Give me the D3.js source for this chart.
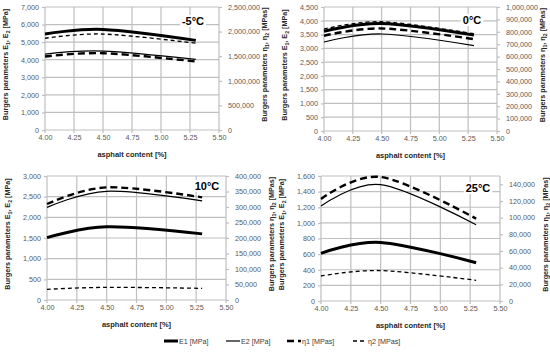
<!DOCTYPE html>
<html>
<head>
<meta charset="utf-8">
<script src="https://cdn.jsdelivr.net/npm/d3@7"></script>
<style>
  body { margin: 0; background: #fff; }
  svg { display: block; font-family: "Liberation Sans", Arial, sans-serif; }
</style>
</head>
<body>
<div id="chart"></div>
<script>
// asphalt content of the mixes [%]
const asphalt = [4.0, 4.5, 5.3];
const temps = ["-5°C", "0°C", "10°C", "25°C"];

// Burgers parameters, one row per temperature (-5, 0, 10, 25 °C)
const E1 = [[5460, 5720, 5100], [3620, 3900, 3480], [1510, 1770, 1600], [610, 750, 490]];
const E2 = [[4320, 4490, 4020], [3230, 3520, 3100], [2240, 2630, 2400], [1215, 1490, 975]];
const eta1 = [[1493000, 1561000, 1393000], [768000, 827000, 741000], [309700, 363400, 331200], [122400, 148800, 98800]];
const eta2 = [[1864000, 1950000, 1764000], [822000, 881000, 784000], [34400, 40800, 37600], [30000, 36500, 24800]];

// axes
const xTicks = [4.00, 4.25, 4.50, 4.75, 5.00, 5.25, 5.50];
const leftMax = [7000, 4500, 3000, 1600];
const leftStep = [1000, 500, 500, 200];
const rightMax = [2500000, 1000000, 400000, 150000];
const rightStep = [500000, 100000, 50000, 20000];

const legendNames = ["E1 [MPa]", "E2 [MPa]", "η1 [MPas]", "η2 [MPas]"];

const W = 550, H = 354;
const svg = d3.select("#chart").append("svg").attr("width", W).attr("height", H);

// plot rectangles of the four panels
const boxes = [
  { x0: 45, x1: 219, y0: 7, y1: 130, lab: { x: 193, y: 21 } },
  { x0: 324, x1: 497, y0: 7, y1: 131, lab: { x: 472, y: 20 } },
  { x0: 47, x1: 226, y0: 176, y1: 300, lab: { x: 207, y: 186 } },
  { x0: 321, x1: 500, y0: 176, y1: 301, lab: { x: 478, y: 188 } }
];

const styles = [
  { w: 3, dash: null },
  { w: 1.2, dash: null },
  { w: 2.4, dash: "7,4" },
  { w: 1.3, dash: "4,3" }
];

const fmt = d3.format(",.2f");
const fmtInt = d3.format(",");
const grid = "#bfbfbf", tickCol = "#595959";

boxes.forEach((b, i) => {
  const g = svg.append("g");
  const x = d3.scaleLinear().domain([4.0, 5.5]).range([b.x0, b.x1]);
  const yL = d3.scaleLinear().domain([0, leftMax[i]]).range([b.y1, b.y0]);
  const yR = d3.scaleLinear().domain([0, rightMax[i]]).range([b.y1, b.y0]);
  const lTicks = d3.range(0, leftMax[i] + 1, leftStep[i]);
  const rTicks = d3.range(0, rightMax[i] + 1, rightStep[i]);

  // grid
  g.selectAll(".hg").data(lTicks).enter().append("line")
    .attr("x1", b.x0).attr("x2", b.x1)
    .attr("y1", d => yL(d)).attr("y2", d => yL(d))
    .attr("stroke", grid).attr("stroke-width", 1.2);
  g.selectAll(".vg").data(xTicks).enter().append("line")
    .attr("x1", d => x(d)).attr("x2", d => x(d))
    .attr("y1", b.y0).attr("y2", b.y1 + 3)
    .attr("stroke", grid).attr("stroke-width", 1.2);

  // axes
  const ax = g.append("g").attr("transform", `translate(0,${b.y1})`)
    .call(d3.axisBottom(x).tickValues(xTicks).tickFormat(fmt).tickSize(0).tickPadding(5));
  const al = g.append("g").attr("transform", `translate(${b.x0},0)`)
    .call(d3.axisLeft(yL).tickValues(lTicks).tickFormat(fmtInt).tickSize(3).tickPadding(3));
  const ar = g.append("g").attr("transform", `translate(${b.x1},0)`)
    .call(d3.axisRight(yR).tickValues(rTicks).tickFormat(fmtInt).tickSize(3).tickPadding(6));
  [ax, al, ar].forEach(a => {
    a.select(".domain").remove();
    a.selectAll("line").attr("stroke", grid).attr("stroke-width", 1.2);
    a.selectAll("text").attr("fill", tickCol).style("font-size", "7.2px");
  });

  // titles
  g.append("text").attr("x", (b.x0 + b.x1) / 2).attr("y", b.y1 + 27)
    .attr("text-anchor", "middle").style("font-size", "7.5px").style("font-weight", "bold")
    .attr("fill", "#262626").text("asphalt content [%]");

  const lt = g.append("text")
    .attr("transform", `translate(${b.x0 - 37},${(b.y0 + b.y1) / 2 - 4}) rotate(-90)`)
    .attr("text-anchor", "middle").style("font-size", "7.2px").style("font-weight", "bold")
    .attr("fill", "#262626");
  lt.append("tspan").text("Burgers parameters E");
  lt.append("tspan").attr("dy", 1.5).style("font-size", "5.2px").text("1");
  lt.append("tspan").attr("dy", -1.5).text(", E");
  lt.append("tspan").attr("dy", 1.5).style("font-size", "5.2px").text("2");
  lt.append("tspan").attr("dy", -1.5).text(" [MPa]");

  const rt = g.append("text")
    .attr("transform", `translate(${b.x1 + 48},${(b.y0 + b.y1) / 2 - 4}) rotate(-90)`)
    .attr("text-anchor", "middle").style("font-size", "7.2px").style("font-weight", "bold")
    .attr("fill", "#262626");
  rt.append("tspan").text("Burgers parameters η");
  rt.append("tspan").attr("dy", 1.5).style("font-size", "5.2px").text("1");
  rt.append("tspan").attr("dy", -1.5).text(", η");
  rt.append("tspan").attr("dy", 1.5).style("font-size", "5.2px").text("2");
  rt.append("tspan").attr("dy", -1.5).text(" [MPas]");

  // temperature label on white box (behind the curves)
  const t = g.append("text").attr("x", b.lab.x).attr("y", b.lab.y + 4)
    .attr("text-anchor", "middle").style("font-size", "11px").style("font-weight", "bold")
    .attr("fill", "#000").text(temps[i]);
  const bb = t.node().getBBox();
  g.insert("rect", () => t.node())
    .attr("x", bb.x - 2).attr("y", bb.y).attr("width", bb.width + 4).attr("height", bb.height)
    .attr("fill", "#fff");

  // series
  const series = [
    { v: E1[i], y: yL }, { v: E2[i], y: yL },
    { v: eta1[i], y: yR }, { v: eta2[i], y: yR }
  ];
  series.forEach((s, k) => {
    const line = d3.line()
      .x(d => x(d[0])).y(d => s.y(d[1]))
      .curve(d3.curveCardinal.tension(0));
    g.append("path")
      .attr("d", line(asphalt.map((a, j) => [a, s.v[j]])))
      .attr("fill", "none").attr("stroke", "#000")
      .attr("stroke-width", styles[k].w)
      .attr("stroke-dasharray", styles[k].dash);
  });
});

// legend
const legX = [164, 226, 287, 353];
const leg = svg.append("g");
legendNames.forEach((n, k) => {
  leg.append("line").attr("x1", legX[k]).attr("x2", legX[k] + 14)
    .attr("y1", 341).attr("y2", 341)
    .attr("stroke", "#000").attr("stroke-width", styles[k].w)
    .attr("stroke-dasharray", styles[k].dash);
  leg.append("text").attr("x", legX[k] + 15).attr("y", 343.5)
    .style("font-size", "7.2px").attr("fill", "#404040").text(n);
});
</script>
</body>
</html>
